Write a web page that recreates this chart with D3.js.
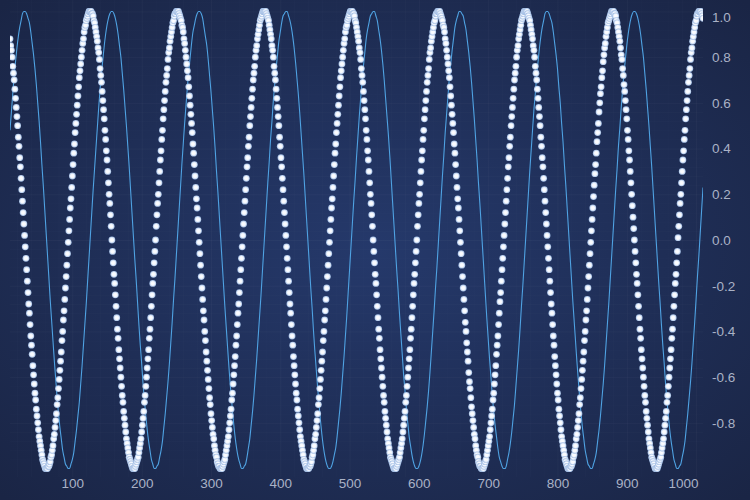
<!DOCTYPE html>
<html>
<head>
<meta charset="utf-8">
<script src="https://cdn.jsdelivr.net/npm/d3@7"></script>
<style>
	body { margin: 0; background: #1b2848; }
	#wrapper svg { display: block; }
	.axis-label { font-family: "Liberation Sans", Arial, sans-serif; font-size: 13.5px; fill: #aab2c6; }
</style>
</head>
<body>
<div id="wrapper"></div>
<script>

// 1. Data (two decimals)

// scatter series, one point per x unit from x = 10
const scatterXStart = 10;
const scatterXStep = 1;
const scatterY = [
	0.88,0.85,0.83,0.80,0.76,0.73,0.70,0.66,0.62,0.58,0.54,0.50,0.45,0.41,0.36,0.32,0.27,0.22,0.17,0.12,0.07,0.02,
	-0.03,-0.08,-0.13,-0.18,-0.23,-0.28,-0.32,-0.37,-0.42,-0.46,-0.50,-0.55,-0.59,-0.63,-0.67,-0.70,-0.74,-0.77,-0.80,-0.83,-0.86,-0.88,-0.90,-0.92,-0.94,-0.96,-0.97,-0.98,-0.99,-1.00,-1.00,
	-1.00,-1.00,-0.99,-0.99,-0.98,-0.97,-0.95,-0.94,-0.92,-0.90,-0.87,-0.85,-0.82,-0.79,-0.76,-0.72,-0.69,-0.65,-0.61,-0.57,-0.53,-0.49,-0.44,-0.40,-0.35,-0.31,-0.26,-0.21,-0.16,-0.11,-0.06,-0.01,
	0.04,0.09,0.14,0.18,0.23,0.28,0.33,0.38,0.42,0.47,0.51,0.55,0.59,0.63,0.67,0.71,0.74,0.77,0.80,0.83,0.86,0.88,0.91,0.93,0.94,0.96,0.97,0.98,0.99,1.00,1.00,
	1.00,1.00,0.99,0.99,0.98,0.96,0.95,0.93,0.91,0.89,0.87,0.84,0.82,0.79,0.75,0.72,0.69,0.65,0.61,0.57,0.53,0.48,0.44,0.39,0.35,0.30,0.25,0.20,0.16,0.11,0.06,0.00,
	-0.05,-0.10,-0.15,-0.19,-0.24,-0.29,-0.34,-0.39,-0.43,-0.48,-0.52,-0.56,-0.60,-0.64,-0.68,-0.71,-0.75,-0.78,-0.81,-0.84,-0.87,-0.89,-0.91,-0.93,-0.95,-0.96,-0.97,-0.98,-0.99,-1.00,-1.00,
	-1.00,-1.00,-0.99,-0.98,-0.97,-0.96,-0.95,-0.93,-0.91,-0.89,-0.87,-0.84,-0.81,-0.78,-0.75,-0.71,-0.68,-0.64,-0.60,-0.56,-0.52,-0.48,-0.43,-0.39,-0.34,-0.29,-0.24,-0.19,-0.15,-0.10,-0.05,
	0.00,0.06,0.11,0.16,0.20,0.25,0.30,0.35,0.39,0.44,0.48,0.53,0.57,0.61,0.65,0.69,0.72,0.75,0.79,0.82,0.84,0.87,0.89,0.91,0.93,0.95,0.96,0.98,0.99,0.99,1.00,1.00,
	1.00,1.00,0.99,0.98,0.97,0.96,0.94,0.93,0.91,0.88,0.86,0.83,0.80,0.77,0.74,0.71,0.67,0.63,0.59,0.55,0.51,0.47,0.42,0.38,0.33,0.28,0.23,0.18,0.14,0.09,0.04,
	-0.01,-0.06,-0.11,-0.16,-0.21,-0.26,-0.31,-0.35,-0.40,-0.44,-0.49,-0.53,-0.57,-0.61,-0.65,-0.69,-0.72,-0.76,-0.79,-0.82,-0.85,-0.87,-0.90,-0.92,-0.94,-0.95,-0.97,-0.98,-0.99,-0.99,-1.00,-1.00,
	-1.00,-1.00,-0.99,-0.98,-0.97,-0.96,-0.94,-0.92,-0.90,-0.88,-0.86,-0.83,-0.80,-0.77,-0.74,-0.70,-0.67,-0.63,-0.59,-0.55,-0.51,-0.46,-0.42,-0.37,-0.32,-0.28,-0.23,-0.18,-0.13,-0.08,-0.03,
	0.02,0.07,0.12,0.17,0.22,0.27,0.32,0.36,0.41,0.45,0.50,0.54,0.58,0.62,0.66,0.70,0.73,0.76,0.80,0.83,0.85,0.88,0.90,0.92,0.94,0.96,0.97,0.98,0.99,1.00,1.00,
	1.00,1.00,1.00,0.99,0.98,0.97,0.96,0.94,0.92,0.90,0.88,0.85,0.83,0.80,0.76,0.73,0.70,0.66,0.62,0.58,0.54,0.50,0.45,0.41,0.36,0.32,0.27,0.22,0.17,0.12,0.07,0.02,
	-0.03,-0.08,-0.13,-0.18,-0.23,-0.28,-0.32,-0.37,-0.42,-0.46,-0.51,-0.55,-0.59,-0.63,-0.67,-0.70,-0.74,-0.77,-0.80,-0.83,-0.86,-0.88,-0.90,-0.92,-0.94,-0.96,-0.97,-0.98,-0.99,-1.00,-1.00,
	-1.00,-1.00,-0.99,-0.99,-0.98,-0.97,-0.95,-0.94,-0.92,-0.90,-0.87,-0.85,-0.82,-0.79,-0.76,-0.72,-0.69,-0.65,-0.61,-0.57,-0.53,-0.49,-0.44,-0.40,-0.35,-0.31,-0.26,-0.21,-0.16,-0.11,-0.06,-0.01,
	0.04,0.09,0.14,0.18,0.23,0.28,0.33,0.38,0.42,0.47,0.51,0.55,0.59,0.63,0.67,0.71,0.74,0.77,0.80,0.83,0.86,0.88,0.91,0.93,0.94,0.96,0.97,0.98,0.99,1.00,1.00,
	1.00,1.00,0.99,0.99,0.98,0.96,0.95,0.93,0.91,0.89,0.87,0.84,0.82,0.79,0.75,0.72,0.69,0.65,0.61,0.57,0.53,0.48,0.44,0.39,0.35,0.30,0.25,0.20,0.16,0.11,0.06,0.00,
	-0.05,-0.10,-0.15,-0.19,-0.24,-0.29,-0.34,-0.39,-0.43,-0.48,-0.52,-0.56,-0.60,-0.64,-0.68,-0.71,-0.75,-0.78,-0.81,-0.84,-0.87,-0.89,-0.91,-0.93,-0.95,-0.96,-0.97,-0.98,-0.99,-1.00,-1.00,
	-1.00,-1.00,-0.99,-0.98,-0.97,-0.96,-0.95,-0.93,-0.91,-0.89,-0.87,-0.84,-0.81,-0.78,-0.75,-0.71,-0.68,-0.64,-0.60,-0.56,-0.52,-0.48,-0.43,-0.39,-0.34,-0.29,-0.24,-0.19,-0.15,-0.10,-0.05,
	0.00,0.06,0.11,0.16,0.20,0.25,0.30,0.35,0.39,0.44,0.48,0.53,0.57,0.61,0.65,0.69,0.72,0.75,0.79,0.82,0.84,0.87,0.89,0.91,0.93,0.95,0.96,0.98,0.99,0.99,1.00,1.00,
	1.00,1.00,0.99,0.98,0.97,0.96,0.94,0.93,0.91,0.88,0.86,0.83,0.80,0.77,0.74,0.71,0.67,0.63,0.59,0.55,0.51,0.47,0.42,0.38,0.33,0.28,0.23,0.18,0.14,0.09,0.04,
	-0.01,-0.06,-0.11,-0.16,-0.21,-0.26,-0.31,-0.36,-0.40,-0.45,-0.49,-0.53,-0.58,-0.62,-0.65,-0.69,-0.73,-0.76,-0.79,-0.82,-0.85,-0.87,-0.90,-0.92,-0.94,-0.95,-0.97,-0.98,-0.99,-0.99,-1.00,-1.00,
	-1.00,-1.00,-0.99,-0.98,-0.97,-0.96,-0.94,-0.92,-0.90,-0.88,-0.86,-0.83,-0.80,-0.77,-0.74,-0.70,-0.67,-0.63,-0.59,-0.55,-0.50,-0.46,-0.42,-0.37,-0.32,-0.27,-0.23,-0.18,-0.13,-0.08,-0.03,
	0.02,0.07,0.12,0.17,0.22,0.27,0.32,0.36,0.41,0.45,0.50,0.54,0.58,0.62,0.66,0.70,0.73,0.76,0.80,0.83,0.85,0.88,0.90,0.92,0.94,0.96,0.97,0.98,0.99,1.00,1.00,
	1.00,1.00,1.00,0.99,0.98,0.97,0.96,0.94,0.92,0.90,0.88,0.85,0.83,0.80,0.76,0.73,0.70,0.66,0.62,0.58,0.54,0.50,0.45,0.41,0.36,0.32,0.27,0.22,0.17,0.12,0.07,0.02,
	-0.03,-0.08,-0.13,-0.18,-0.23,-0.28,-0.32,-0.37,-0.42,-0.46,-0.51,-0.55,-0.59,-0.63,-0.67,-0.70,-0.74,-0.77,-0.80,-0.83,-0.86,-0.88,-0.90,-0.92,-0.94,-0.96,-0.97,-0.98,-0.99,-1.00,-1.00,
	-1.00,-1.00,-0.99,-0.99,-0.98,-0.97,-0.95,-0.94,-0.92,-0.90,-0.87,-0.85,-0.82,-0.79,-0.76,-0.72,-0.69,-0.65,-0.61,-0.57,-0.53,-0.49,-0.44,-0.40,-0.35,-0.31,-0.26,-0.21,-0.16,-0.11,-0.06,-0.01,
	0.04,0.09,0.14,0.19,0.24,0.29,0.33,0.38,0.43,0.47,0.51,0.56,0.60,0.64,0.67,0.71,0.74,0.78,0.81,0.84,0.86,0.89,0.91,0.93,0.95,0.96,0.97,0.98,0.99,1.00,1.00,
	1.00,1.00,0.99,0.99,0.98,0.96,0.95,0.93,0.91,0.89,0.87,0.84,0.81,0.79,0.75,0.72,0.68,0.65,0.61,0.57,0.53,0.48,0.44,0.39,0.35,0.30,0.25,0.20,0.15,0.10,0.05,0.00,
	-0.05,-0.10,-0.15,-0.19,-0.24,-0.29,-0.34,-0.39,-0.43,-0.48,-0.52,-0.56,-0.60,-0.64,-0.68,-0.71,-0.75,-0.78,-0.81,-0.84,-0.87,-0.89,-0.91,-0.93,-0.95,-0.96,-0.97,-0.98,-0.99,-1.00,-1.00,
	-1.00,-1.00,-0.99,-0.98,-0.97,-0.96,-0.95,-0.93,-0.91,-0.89,-0.87,-0.84,-0.81,-0.78,-0.75,-0.71,-0.68,-0.64,-0.60,-0.56,-0.52,-0.48,-0.43,-0.39,-0.34,-0.29,-0.24,-0.19,-0.15,-0.10,-0.05,
	0.01,0.06,0.11,0.16,0.20,0.25,0.30,0.35,0.39,0.44,0.48,0.53,0.57,0.61,0.65,0.69,0.72,0.75,0.79,0.82,0.84,0.87,0.89,0.91,0.93,0.95,0.96,0.98,0.99,0.99,1.00,1.00,
	1.00,1.00,0.99,0.98,0.97
];

// line series, one point every 2 x units from x = 10
const lineXStart = 10;
const lineXStep = 2;
const lineY = [
	0.48,0.56,0.64,0.72,0.78,0.84,0.89,0.93,0.96,0.99,1.00,
	1.00,0.99,0.97,0.95,0.91,0.86,0.81,0.75,0.68,0.60,0.52,0.43,0.33,0.24,0.14,0.04,
	-0.06,-0.16,-0.26,-0.35,-0.44,-0.53,-0.61,-0.69,-0.76,-0.82,-0.87,-0.92,-0.95,-0.98,-0.99,-1.00,
	-1.00,-0.98,-0.96,-0.93,-0.88,-0.83,-0.77,-0.71,-0.63,-0.55,-0.46,-0.37,-0.28,-0.18,-0.08,
	0.02,0.12,0.22,0.31,0.40,0.49,0.58,0.66,0.73,0.79,0.85,0.90,0.94,0.97,0.99,1.00,
	1.00,0.99,0.97,0.94,0.90,0.85,0.80,0.73,0.66,0.58,0.50,0.41,0.32,0.22,0.12,0.02,
	-0.08,-0.17,-0.27,-0.37,-0.46,-0.54,-0.63,-0.70,-0.77,-0.83,-0.88,-0.92,-0.96,-0.98,-1.00,
	-1.00,-0.99,-0.98,-0.95,-0.92,-0.88,-0.82,-0.76,-0.69,-0.62,-0.54,-0.45,-0.36,-0.26,-0.17,-0.07,
	0.03,0.13,0.23,0.33,0.42,0.51,0.59,0.67,0.74,0.80,0.86,0.91,0.94,0.97,0.99,1.00,
	1.00,0.99,0.97,0.93,0.89,0.85,0.79,0.72,0.65,0.57,0.49,0.40,0.30,0.21,0.11,0.01,
	-0.09,-0.19,-0.29,-0.38,-0.47,-0.56,-0.64,-0.71,-0.78,-0.84,-0.89,-0.93,-0.96,-0.98,-1.00,
	-1.00,-0.99,-0.98,-0.95,-0.91,-0.87,-0.81,-0.75,-0.68,-0.60,-0.52,-0.43,-0.34,-0.25,-0.15,-0.05,
	0.05,0.15,0.25,0.34,0.44,0.52,0.61,0.68,0.75,0.81,0.87,0.91,0.95,0.98,0.99,1.00,
	1.00,0.98,0.96,0.93,0.89,0.84,0.78,0.71,0.64,0.56,0.47,0.38,0.29,0.19,0.09,
	-0.01,-0.11,-0.21,-0.30,-0.40,-0.49,-0.57,-0.65,-0.72,-0.79,-0.85,-0.90,-0.94,-0.97,-0.99,-1.00,
	-1.00,-0.99,-0.97,-0.94,-0.91,-0.86,-0.80,-0.74,-0.67,-0.59,-0.51,-0.42,-0.33,-0.23,-0.13,-0.03,
	0.07,0.17,0.26,0.36,0.45,0.54,0.62,0.69,0.76,0.82,0.88,0.92,0.95,0.98,0.99,1.00,
	1.00,0.98,0.96,0.92,0.88,0.83,0.77,0.70,0.62,0.54,0.46,0.37,0.27,0.17,0.07,
	-0.03,-0.13,-0.22,-0.32,-0.41,-0.50,-0.59,-0.66,-0.74,-0.80,-0.86,-0.90,-0.94,-0.97,-0.99,-1.00,
	-1.00,-0.99,-0.97,-0.94,-0.90,-0.85,-0.79,-0.73,-0.66,-0.58,-0.49,-0.40,-0.31,-0.21,-0.12,-0.02,
	0.08,0.18,0.28,0.37,0.47,0.55,0.63,0.71,0.77,0.83,0.88,0.93,0.96,0.98,1.00,
	1.00,0.99,0.98,0.95,0.92,0.87,0.82,0.76,0.69,0.61,0.53,0.44,0.35,0.25,0.16,0.06,
	-0.04,-0.14,-0.24,-0.34,-0.43,-0.52,-0.60,-0.68,-0.75,-0.81,-0.86,-0.91,-0.95,-0.97,-0.99,-1.00,
	-1.00,-0.99,-0.96,-0.93,-0.89,-0.84,-0.78,-0.72,-0.64,-0.56,-0.48,-0.39,-0.29,-0.20,-0.10,
	0.00,0.10,0.20,0.30,0.39,0.48,0.57,0.64,0.72,0.78,0.84,0.89,0.93,0.96,0.99,1.00,
	1.00,0.99,0.97,0.95,0.91,0.86,0.81,0.75,0.67,0.60,0.51,0.43,0.33,0.24,0.14,0.04,
	-0.06,-0.16,-0.26,-0.35,-0.44,-0.53,-0.61,-0.69,-0.76,-0.82,-0.87,-0.92,-0.95,-0.98,-0.99,-1.00,
	-1.00,-0.98,-0.96,-0.93,-0.88,-0.83,-0.77,-0.70,-0.63,-0.55,-0.46,-0.37,-0.28,-0.18,-0.08,
	0.02,0.12,0.22,0.31,0.41,0.49,0.58,0.66,0.73,0.79,0.85,0.90,0.94,0.97,0.99,1.00,
	1.00,0.99,0.97,0.94,0.90,0.85,0.80,0.73,0.66,0.58,0.50,0.41,0.32,0.22,0.12,0.02,
	-0.08,-0.18,-0.27,-0.37,-0.46,-0.54,-0.63,-0.70,-0.77,-0.83,-0.88,-0.92,-0.96,-0.98,-1.00,
	-1.00,-0.99,-0.98,-0.95,-0.92,-0.88,-0.82,-0.76,-0.69,-0.62,-0.54,-0.45,-0.36,-0.26,-0.16,-0.07,
	0.03,0.13,0.23
];

const xDomain = [10, 1010];
const yDomain = [-1.05, 1.05];
const xTicks = [100, 200, 300, 400, 500, 600, 700, 800, 900, 1000];
const yTicks = [-0.8, -0.6, -0.4, -0.2, 0, 0.2, 0.4, 0.6, 0.8, 1.0];

function drawChart () {

	// 2. Accessors

	const scatterXAccessor = (d, i) => scatterXStart + i * scatterXStep;
	const lineXAccessor = (d, i) => lineXStart + i * lineXStep;

	// 3. Dimensions

	let dimensions = {
		width: 750,
		height: 500,
		plot: {
			left: 10,
			right: 703,
			top: 0,
			bottom: 477
		}
	};
	dimensions.plotWidth = dimensions.plot.right - dimensions.plot.left;
	dimensions.plotHeight = dimensions.plot.bottom - dimensions.plot.top;

	const wrapper = d3.select("#wrapper")
						.append("svg")
						.attr("width", dimensions.width)
						.attr("height", dimensions.height);

	const defs = wrapper.append("defs");

	const bgGradient = defs.append("radialGradient")
						.attr("id", "bg-gradient")
						.attr("cx", "50%")
						.attr("cy", "50%")
						.attr("r", "70%");
	bgGradient.append("stop").attr("offset", "0%").attr("stop-color", "#25396b");
	bgGradient.append("stop").attr("offset", "100%").attr("stop-color", "#1a2545");

	// soft white marker, bluish rim
	const markerGradient = defs.append("radialGradient")
						.attr("id", "marker-gradient");
	markerGradient.append("stop").attr("offset", "0%").attr("stop-color", "#ffffff");
	markerGradient.append("stop").attr("offset", "55%").attr("stop-color", "#f4f8ff");
	markerGradient.append("stop").attr("offset", "100%").attr("stop-color", "#9fbbe3");

	defs.append("clipPath")
		.attr("id", "plot-clip")
		.append("rect")
		.attr("x", dimensions.plot.left)
		.attr("y", dimensions.plot.top)
		.attr("width", dimensions.plotWidth)
		.attr("height", dimensions.plotHeight);

	wrapper.append("rect")
		.attr("width", dimensions.width)
		.attr("height", dimensions.height)
		.attr("fill", "url(#bg-gradient)");

	// 4. Scales

	const xScale = d3.scaleLinear()
						.domain(xDomain)
						.range([dimensions.plot.left, dimensions.plot.right]);

	const yScale = d3.scaleLinear()
						.domain(yDomain)
						.range([480, 0]);

	// 5. Gridlines (minor then major)

	const minorX = d3.range(20, 1011, 20).filter(d => d % 100 != 0);
	const minorY = d3.range(-26, 27).map(d => d * 0.04).filter(d => Math.abs(Math.round(d * 100) % 20) != 0);

	const grid = wrapper.append("g").attr("clip-path", "url(#plot-clip)");

	const gridStyle = (g, color) => {
		g.select(".domain").remove();
		g.selectAll("text").remove();
		g.selectAll("line").attr("stroke", color).attr("stroke-width", 1);
	};

	grid.append("g")
		.attr("transform", `translate(0, ${dimensions.plot.bottom})`)
		.call(d3.axisBottom(xScale).tickValues(minorX).tickSize(-dimensions.plotHeight))
		.call(gridStyle, "rgba(255,255,255,0.015)");

	grid.append("g")
		.attr("transform", `translate(${dimensions.plot.left}, 0)`)
		.call(d3.axisLeft(yScale).tickValues(minorY).tickSize(-dimensions.plotWidth))
		.call(gridStyle, "rgba(255,255,255,0.015)");

	grid.append("g")
		.attr("transform", `translate(0, ${dimensions.plot.bottom})`)
		.call(d3.axisBottom(xScale).tickValues(xTicks).tickSize(-dimensions.plotHeight))
		.call(gridStyle, "rgba(255,255,255,0.03)");

	grid.append("g")
		.attr("transform", `translate(${dimensions.plot.left}, 0)`)
		.call(d3.axisLeft(yScale).tickValues(yTicks).tickSize(-dimensions.plotWidth))
		.call(gridStyle, "rgba(255,255,255,0.03)");

	// 6. Series

	const series = wrapper.append("g").attr("clip-path", "url(#plot-clip)");

	const lineGenerator = d3.line()
							.x((d, i) => xScale(lineXAccessor(d, i)))
							.y(d => yScale(d))
							.curve(d3.curveMonotoneX);

	series.append("path")
		.datum(lineY)
		.attr("d", lineGenerator)
		.attr("fill", "none")
		.attr("stroke", "#4fa2e2")
		.attr("stroke-width", 1.1);

	series.append("g")
		.selectAll("circle")
		.data(scatterY)
		.join("circle")
		.attr("cx", (d, i) => xScale(scatterXAccessor(d, i)))
		.attr("cy", d => yScale(d))
		.attr("r", 3.4)
		.attr("fill", "url(#marker-gradient)");

	// 7. Axes

	const xAxis = wrapper.append("g")
						.attr("transform", `translate(0, 488)`)
						.call(d3.axisBottom(xScale).tickValues(xTicks).tickSize(0).tickFormat(d => d));
	xAxis.select(".domain").remove();
	xAxis.selectAll("text")
		.attr("class", "axis-label")
		.attr("y", 0)
		.attr("dy", 0)
		.attr("fill", null);
	// keep the last label inside the plot
	xAxis.selectAll("text").each(function () {
		const box = this.getBBox();
		const tickX = xScale(d3.select(this).datum());
		const overflow = tickX + box.width / 2 - (dimensions.plot.right - 5);
		if (overflow > 0) d3.select(this).attr("x", -overflow);
	});

	const yAxis = wrapper.append("g")
						.attr("transform", `translate(${dimensions.plot.right}, 0)`)
						.call(d3.axisRight(yScale).tickValues(yTicks).tickSize(0).tickPadding(9).tickFormat(d => d.toFixed(1)));
	yAxis.select(".domain").remove();
	yAxis.selectAll("text")
		.attr("class", "axis-label")
		.attr("fill", null);
	// keep the top label from touching the edge
	yAxis.selectAll(".tick").each(function (d) {
		const y = yScale(d);
		if (y < 16.7) d3.select(this).select("text").attr("y", 16.7 - y);
	});
}

drawChart();
</script>
</body>
</html>
